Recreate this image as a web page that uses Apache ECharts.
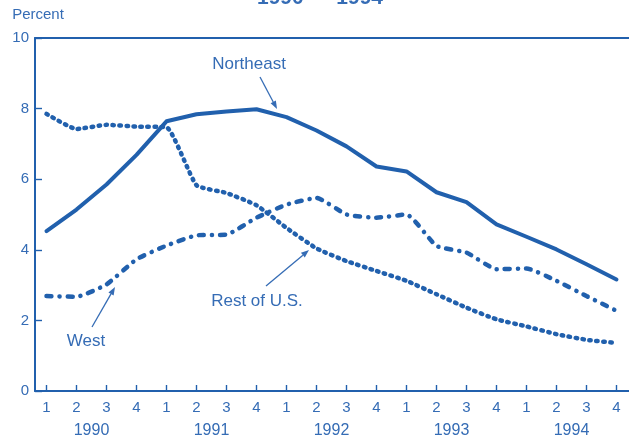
<!DOCTYPE html>
<html>
<head>
<meta charset="utf-8">
<script src="https://cdn.jsdelivr.net/npm/echarts@6/dist/echarts.min.js"></script>
<style>
html,body{margin:0;padding:0;background:#fff;}
#chart{width:629px;height:439px;}
</style>
</head>
<body>
<div id="chart"></div>
<script>
var quarterLabels = ['1','2','3','4','1','2','3','4','1','2','3','4','1','2','3','4','1','2','3','4'];
var yearLabels = ['1990','1991','1992','1993','1994'];
var yearPositions = [1.5, 5.5, 9.5, 13.5, 17.5];
var yTicks = [0, 2, 4, 6, 8, 10];
var northeast = [4.53, 5.14, 5.85, 6.69, 7.64, 7.84, 7.92, 7.98, 7.76, 7.38, 6.93, 6.36, 6.22, 5.63, 5.35, 4.72, 4.37, 4.01, 3.59, 3.16];
var restOfUS  = [7.85, 7.42, 7.54, 7.49, 7.47, 5.83, 5.61, 5.26, 4.62, 4.04, 3.68, 3.40, 3.12, 2.74, 2.36, 2.03, 1.83, 1.61, 1.45, 1.36];
var west      = [2.69, 2.67, 3.02, 3.73, 4.12, 4.41, 4.43, 4.91, 5.28, 5.47, 5.00, 4.91, 5.00, 4.11, 3.92, 3.45, 3.47, 3.12, 2.69, 2.27];

var LINE = '#2160ad';
var TEXT = '#356cb5';
var FONT = 'Liberation Sans, Arial, Helvetica, sans-serif';

function pairs(arr){ return arr.map(function(v,i){ return [i, v]; }); }
var qIdx = quarterLabels.map(function(_, i){ return i; });

var chart = echarts.init(document.getElementById('chart'), null, {renderer:'canvas'});

function arrow(x1,y1,x2,y2){
  var ang = Math.atan2(y2-y1, x2-x1), L = 8, W = 3;
  var bx = x2 - L*Math.cos(ang), by = y2 - L*Math.sin(ang);
  var px = -Math.sin(ang)*W, py = Math.cos(ang)*W;
  return [
    {type:'line', shape:{x1:x1,y1:y1,x2:bx,y2:by}, style:{stroke:TEXT, lineWidth:1.3}},
    {type:'polygon', shape:{points:[[x2,y2],[bx+px,by+py],[bx-px,by-py]]}, style:{fill:TEXT}}
  ];
}

var graphics = [
  {type:'text', style:{text:'1990 \u2014 1994', x:320, y:-1.5, align:'center', verticalAlign:'middle', font:'bold 21px ' + FONT, fill:TEXT}},
  {type:'text', style:{text:'Northeast', x:249, y:64, align:'center', verticalAlign:'middle', font:'17px ' + FONT, fill:TEXT}},
  {type:'text', style:{text:'Rest of U.S.', x:257, y:301, align:'center', verticalAlign:'middle', font:'17px ' + FONT, fill:TEXT}},
  {type:'text', style:{text:'West', x:86, y:341, align:'center', verticalAlign:'middle', font:'17px ' + FONT, fill:TEXT}}
].concat(arrow(260,77,277,109)).concat(arrow(266,286,309,250)).concat(arrow(92,327,115,287));

var option = {
  backgroundColor:'#ffffff',
  animation:false,
  grid:{left:35, right:0, top:38, bottom:47, containLabel:false},
  xAxis:[
    {
      type:'value', min:-0.38333, max:19.41667, position:'bottom',
      axisLine:{show:true, onZero:false, lineStyle:{color:LINE, width:2}},
      axisTick:{show:true, inside:true, length:6, customValues:qIdx, lineStyle:{color:LINE, width:1.4}},
      axisLabel:{show:true, customValues:qIdx, margin:9, fontSize:15, fontFamily:FONT, color:TEXT,
        formatter:function(v){ var i=Math.round(v); return quarterLabels[i] || ''; }},
      splitLine:{show:false}
    },
    {
      type:'value', min:-0.38333, max:19.41667, position:'bottom',
      axisLine:{show:false, onZero:false}, axisTick:{show:false}, splitLine:{show:false},
      axisLabel:{show:true, customValues:yearPositions, margin:32, fontSize:16, fontFamily:FONT, color:TEXT,
        formatter:function(v){ var k=yearPositions.indexOf(v); return k>=0 ? yearLabels[k] : ''; }}
    },
    {
      type:'value', min:-0.38333, max:19.41667, position:'top',
      axisLine:{show:true, onZero:false, lineStyle:{color:LINE, width:2}},
      axisTick:{show:false}, axisLabel:{show:false}, splitLine:{show:false}
    }
  ],
  yAxis:{
    type:'value', min:0, max:10, interval:2,
    name:'Percent', nameLocation:'end', nameGap:16,
    nameTextStyle:{fontSize:15, fontFamily:FONT, color:TEXT, align:'center', padding:[0,0,0,6]},
    axisLine:{show:true, onZero:false, lineStyle:{color:LINE, width:2}},
    axisTick:{show:true, inside:true, length:7, lineStyle:{color:LINE, width:1.4}},
    axisLabel:{fontSize:15, fontFamily:FONT, color:TEXT, margin:6,
      formatter:function(v){ return yTicks.indexOf(v)>=0 ? String(v) : ''; }},
    splitLine:{show:false}
  },
  series:[
    {name:'Northeast', type:'line', data:pairs(northeast), symbol:'none',
      lineStyle:{color:LINE, width:4, cap:'round', join:'round'}},
    {name:'Rest of U.S.', type:'line', data:pairs(restOfUS), symbol:'none', smooth:0.15,
      lineStyle:{color:LINE, width:4.5, type:[1.5,5.5], cap:'round'}},
    {name:'West', type:'line', data:pairs(west), symbol:'none', smooth:0.15,
      lineStyle:{color:LINE, width:4.5, type:[5,8,0.1,8], cap:'round'}}
  ],
  graphic:graphics
};
chart.setOption(option);
</script>
</body>
</html>
